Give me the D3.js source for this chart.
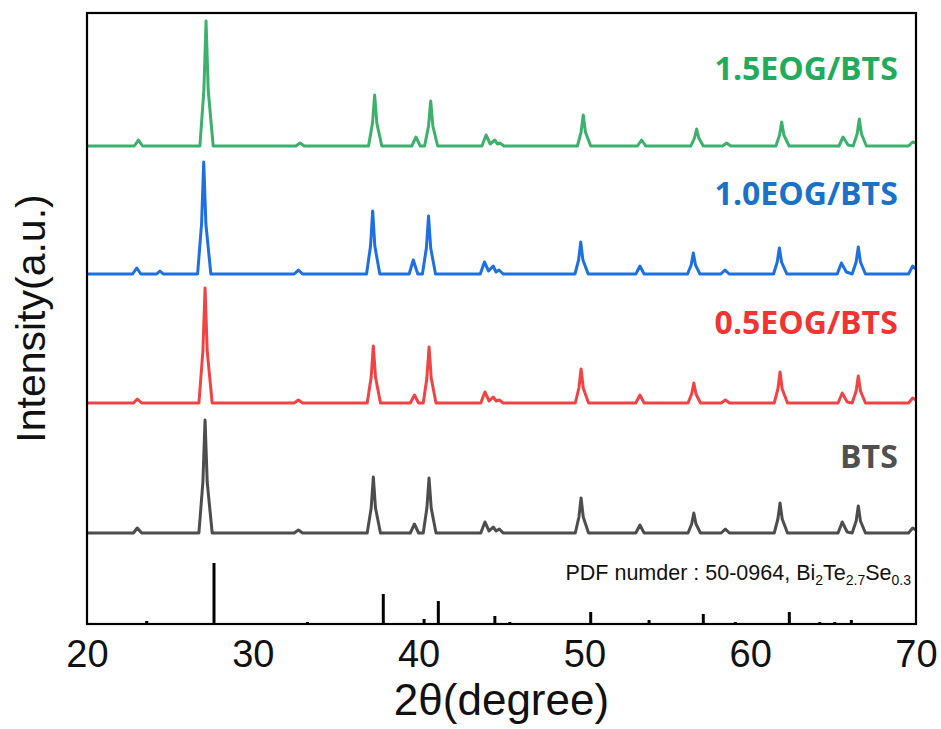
<!DOCTYPE html>
<meta charset="utf-8">
<script src="https://cdn.jsdelivr.net/npm/d3@7"></script>
<style>
  body { margin: 0; background: #fff; }
  path.pattern { fill: none; stroke-width: 3px; stroke-linejoin: round; }
  line.ref { stroke: #000; stroke-width: 3px; }
  .tick text { font-family: "Liberation Sans", Arial, sans-serif; font-size: 38px; fill: #111; }
  text.title { font-family: "Liberation Sans", Arial, sans-serif; font-size: 44px; fill: #111; }
  text.ytitle { font-size: 41px; }
  text.label { font-family: "Open Sans", sans-serif; font-weight: 700; font-size: 32px; }
  text.pdf { font-family: "Liberation Sans", Arial, sans-serif; font-size: 21.5px; fill: #111; }
</style>
<body>
<script>
  // vertices [2theta, intensity above own baseline]
  var btsPts = [[20,0],
    [22.8,0],[23.03,5],[23.3,0],
    [26.75,0],[26.99,51],[27.12,113],[27.25,51],[27.55,0],
    [32.5,0],[32.75,3],[33.0,0],
    [36.9,0],[37.14,25],[37.27,56],[37.4,25],[37.7,0],
    [39.5,0],[39.75,9],[40.0,0],
    [40.28,0],[40.5,25],[40.63,55],[40.76,25],[41.05,0],
    [43.75,0],[44.0,11],[44.25,2],[44.5,6],[44.68,2],[44.87,4],[45.1,0],
    [49.45,0],[49.67,16],[49.8,35],[49.93,16],[50.25,0],
    [53.1,0],[53.35,8],[53.6,0],
    [56.25,0],[56.47,9],[56.6,20],[56.73,9],[57.0,0],
    [58.25,0],[58.5,4],[58.75,0],
    [61.45,0],[61.67,14],[61.8,30],[61.93,14],[62.25,0],
    [65.3,0],[65.55,11],[65.85,1],
    [66.15,0],[66.39,12],[66.52,27],[66.65,12],[66.95,0],
    [69.55,0],[69.8,5],[70,3]];

  var eog05Pts = [[20,0],
    [22.8,0],[23.03,4],[23.3,0],
    [26.75,0],[26.99,52],[27.12,115],[27.25,52],[27.55,0],
    [32.5,0],[32.75,3],[33.0,0],
    [36.9,0],[37.14,26],[37.27,57],[37.4,26],[37.7,0],
    [39.5,0],[39.75,8],[40.0,0],
    [40.28,0],[40.5,25],[40.63,56],[40.76,25],[41.05,0],
    [43.75,0],[44.0,11],[44.25,2],[44.5,6],[44.68,2],[44.87,3],[45.1,0],
    [49.45,0],[49.67,15],[49.8,34],[49.93,15],[50.25,0],
    [53.1,0],[53.35,8],[53.6,0],
    [56.25,0],[56.47,9],[56.6,20],[56.73,9],[57.0,0],
    [58.25,0],[58.5,3],[58.75,0],
    [61.45,0],[61.67,14],[61.8,31],[61.93,14],[62.25,0],
    [65.3,0],[65.55,10],[65.85,1],
    [66.15,0],[66.39,12],[66.52,27],[66.65,12],[66.95,0],
    [69.55,0],[69.8,5],[70,3]];

  var eog10Pts = [[20,0],
    [22.75,0],[23.0,6],[23.25,0],
    [24.2,0],[24.4,3],[24.6,0],
    [26.67,0],[26.91,50],[27.04,112],[27.17,50],[27.47,0],
    [32.5,0],[32.75,4],[33.0,0],
    [36.86,0],[37.1,28],[37.23,63],[37.36,28],[37.66,0],
    [39.43,0],[39.68,14],[39.95,0],
    [40.23,0],[40.47,26],[40.6,58],[40.73,26],[41.02,0],
    [43.72,0],[43.97,12],[44.22,3],[44.5,8],[44.67,2],[44.85,4],[45.1,0],
    [49.43,0],[49.65,14],[49.78,32],[49.91,14],[50.23,0],
    [53.1,0],[53.35,8],[53.6,0],
    [56.22,0],[56.44,9],[56.57,21],[56.7,9],[56.97,0],
    [58.23,0],[58.48,4],[58.73,0],
    [61.41,0],[61.63,12],[61.76,26],[61.89,12],[62.21,0],
    [65.25,0],[65.5,11],[65.8,2],
    [66.15,0],[66.39,12],[66.52,27],[66.65,12],[66.95,0],
    [69.55,0],[69.8,8],[70,5]];

  var eog15Pts = [[20,0],
    [22.85,0],[23.1,6],[23.35,0],
    [26.81,0],[27.05,56],[27.18,125],[27.31,56],[27.61,0],
    [32.6,0],[32.85,3],[33.1,0],
    [36.98,0],[37.22,23],[37.35,51],[37.48,23],[37.78,0],
    [39.59,0],[39.84,9],[40.1,0],
    [40.36,0],[40.6,20],[40.73,45],[40.86,20],[41.15,0],
    [43.82,0],[44.07,11],[44.32,2],[44.6,6],[44.75,2],[44.9,3],[45.15,0],
    [49.58,0],[49.8,14],[49.93,31],[50.06,14],[50.38,0],
    [53.2,0],[53.45,6],[53.7,0],
    [56.42,0],[56.64,8],[56.77,17],[56.9,8],[57.17,0],
    [58.33,0],[58.58,3],[58.83,0],
    [61.55,0],[61.77,11],[61.9,24],[62.03,11],[62.35,0],
    [65.35,0],[65.6,9],[65.9,1],
    [66.21,0],[66.45,12],[66.58,27],[66.71,12],[67.01,0],
    [69.55,0],[69.8,4],[70,3]];

  // PDF 50-0964 reference lines [2theta, relative height]
  var refPos = [23.6, 27.66, 33.3, 37.87, 40.33, 41.19, 44.6, 45.5, 50.38, 53.9, 57.17, 59.1, 62.36, 64.2, 65.1, 66.1];
  var refHeight = [3, 61, 2, 30, 5, 23, 8, 2, 12, 4, 10, 2, 12, 2, 2, 4];

  var seriesNames = ["BTS", "0.5EOG/BTS", "1.0EOG/BTS", "1.5EOG/BTS"];
  var seriesPts = [btsPts, eog05Pts, eog10Pts, eog15Pts];
  var seriesOffset = [91, 221, 350, 478];
  var lineColors = ["#4d4d4d", "#f04444", "#1e6fe0", "#3cb06c"];
  var labelColors = ["#505050", "#f03434", "#1a72c8", "#22ab5c"];
  var labelLevel = [156, 290, 419, 544];

  var xTicks = [20, 30, 40, 50, 60, 70];

  var width = 941,
    height = 729;
  var mLeft = 87, mRight = 916, mTop = 13, mBottom = 624;

  var x = d3.scaleLinear().domain([20, 70]).range([mLeft, mRight]);
  var y = d3.scaleLinear().domain([0, 611]).range([mBottom, mTop]);

  var svg = d3.select("body").append("svg")
    .attr("width", width)
    .attr("height", height);

  // reference sticks
  svg.append("g")
    .selectAll("line")
    .data(refPos)
    .enter()
    .append("line")
    .attr("class", "ref")
    .attr("x1", function (d) { return x(d); })
    .attr("x2", function (d) { return x(d); })
    .attr("y1", y(0))
    .attr("y2", function (d, i) { return y(refHeight[i]); });

  // diffraction patterns
  seriesPts.forEach(function (pts, i) {
    var line = d3.line()
      .x(function (d) { return x(d[0]); })
      .y(function (d) { return y(d[1] + seriesOffset[i]); });
    svg.append("path")
      .datum(pts)
      .attr("class", "pattern")
      .style("stroke", lineColors[i])
      .attr("d", line);

    svg.append("text")
      .attr("class", "label")
      .attr("x", x(68.9))
      .attr("y", y(labelLevel[i]))
      .attr("text-anchor", "end")
      .style("fill", labelColors[i])
      .text(seriesNames[i]);
  });

  // PDF caption
  var pdf = svg.append("text")
    .attr("class", "pdf")
    .attr("x", x(69.7))
    .attr("y", y(44))
    .attr("text-anchor", "end");
  pdf.append("tspan").text("PDF numder : 50-0964, Bi");
  pdf.append("tspan").attr("dy", 5).style("font-size", "14px").text("2");
  pdf.append("tspan").attr("dy", -5).text("Te");
  pdf.append("tspan").attr("dy", 5).style("font-size", "14px").text("2.7");
  pdf.append("tspan").attr("dy", -5).text("Se");
  pdf.append("tspan").attr("dy", 5).style("font-size", "14px").text("0.3");

  // frame
  svg.append("rect")
    .attr("x", mLeft)
    .attr("y", mTop)
    .attr("width", mRight - mLeft)
    .attr("height", mBottom - mTop)
    .style("fill", "none")
    .style("stroke", "#000")
    .style("stroke-width", 2.2);

  // x axis labels
  var xAxis = svg.append("g")
    .attr("transform", "translate(0," + mBottom + ")")
    .call(d3.axisBottom(x).tickValues(xTicks).tickSize(0).tickPadding(16));
  xAxis.select(".domain").remove();

  svg.append("text")
    .attr("class", "title")
    .attr("x", (mLeft + mRight) / 2)
    .attr("y", 715)
    .attr("text-anchor", "middle")
    .text("2θ(degree)");

  svg.append("text")
    .attr("class", "title ytitle")
    .attr("transform", "rotate(-90)")
    .attr("x", -(mTop + mBottom) / 2)
    .attr("y", 45)
    .attr("text-anchor", "middle")
    .text("Intensity(a.u.)");
</script>
</body>
